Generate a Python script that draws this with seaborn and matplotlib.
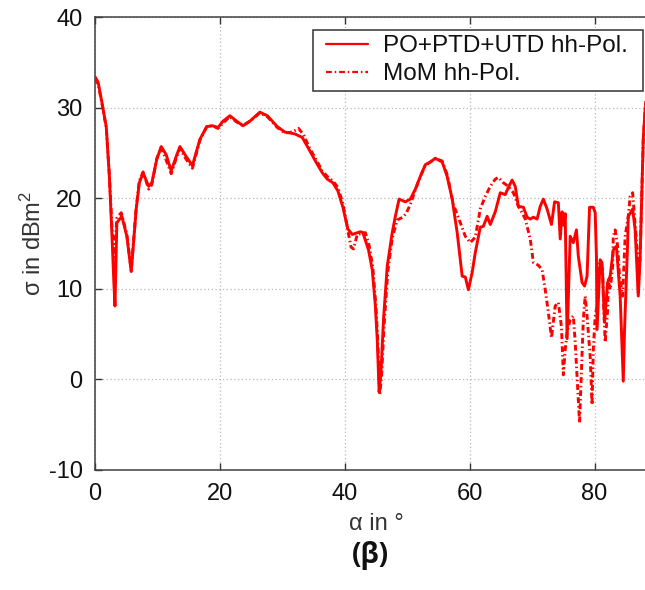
import matplotlib
matplotlib.use("Agg")
import matplotlib.pyplot as plt
import seaborn as sns
import pandas as pd
from matplotlib.lines import Line2D
from matplotlib.legend_handler import HandlerLine2D

# PO+PTD+UTD solution, hh polarisation
alpha_po = [0, 0.5, 1.1, 1.8, 2.3, 2.7, 3.0, 3.2, 3.5, 4.3, 5.1, 5.8, 6.6, 7.1, 7.7,
            8.6, 9.1, 9.9, 10.6, 11.4, 12.2, 13.0, 13.6, 14.6, 15.6, 16.8, 17.9, 18.8,
            19.7, 20.5, 21.6, 22.7, 23.7, 24.8, 26.4, 27.6, 29.2, 30.4, 32.0, 33.2,
            34.1, 35.3, 36.4, 37.2, 38.1, 38.9, 39.7, 40.5, 41.2, 42.5, 42.9, 43.8,
            44.4, 44.9, 45.2, 45.5, 45.8, 46.2, 46.8, 47.6, 48.1, 48.7, 49.7, 50.5,
            51.3, 52.1, 52.9, 53.7, 54.5, 55.6, 56.4, 57.2, 58.0, 58.5, 58.8, 59.3,
            59.8, 60.4, 60.9, 61.7, 62.2, 62.8, 63.3, 64.1, 64.9, 65.7, 66.2, 66.8,
            67.3, 67.8, 68.6, 69.2, 69.7, 70.2, 70.8, 71.3, 71.8, 72.4, 73.1, 73.6,
            74.2, 74.5, 74.8, 75.1, 75.3, 75.6, 76.1, 76.6, 77.1, 77.4, 78.0, 78.4,
            78.8, 79.2, 79.8, 80.1, 80.3, 80.4, 80.6, 80.9, 81.2, 81.6, 82.1, 82.5,
            83.0, 83.5, 84.1, 84.6, 84.8, 85.3, 85.4, 86.1, 86.5, 87.0, 87.3, 87.8,
            88.1, 88.6]
sigma_po = [33.4, 32.8, 30.6, 27.9, 22.4, 16.2, 11.0, 8.1, 17.3, 18.0, 15.8, 11.9, 18.8,
            21.7, 22.8, 21.3, 21.7, 24.3, 25.7, 24.8, 23.0, 24.6, 25.7, 24.6, 23.6,
            26.5, 27.9, 28.0, 27.8, 28.5, 29.1, 28.5, 28.0, 28.5, 29.5, 29.1, 27.9,
            27.3, 27.1, 26.7, 25.6, 24.1, 22.8, 22.1, 21.7, 20.8, 19.0, 16.6, 16.0,
            16.3, 16.2, 14.3, 12.1, 8.1, 4.4, -1.4, 0.8, 6.6, 12.5, 16.2, 18.0, 19.9,
            19.6, 19.9, 21.0, 22.4, 23.7, 24.0, 24.4, 24.0, 22.4, 19.9, 16.2, 13.2,
            11.4, 11.3, 9.9, 11.8, 14.0, 16.8, 16.9, 18.0, 17.1, 18.5, 20.6, 20.4,
            21.2, 22.0, 21.3, 19.1, 19.0, 17.9, 17.7, 17.9, 17.7, 19.1, 19.9, 18.8,
            17.1, 19.6, 19.5, 15.5, 18.5, 17.0, 18.3, 4.5, 15.8, 15.1, 16.5, 13.6,
            10.7, 10.3, 11.4, 19.0, 19.0, 18.4, 13.6, 5.5, 8.5, 13.2, 12.9, 6.3, 10.7,
            11.4, 14.3, 14.7, 9.2, -0.2, 5.5, 15.1, 18.0, 18.8, 16.5, 9.2, 13.6, 26.5,
            29.8, 33.0]

# MoM reference solution, hh polarisation
alpha_mom = [0, 0.5, 1.1, 1.8, 2.3, 2.7, 3.1, 3.5, 4.2, 5.1, 5.8, 6.6, 7.1, 7.7, 8.6,
             9.1, 9.9, 10.6, 11.4, 12.2, 13.0, 13.6, 14.6, 15.6, 16.8, 17.9, 18.8,
             19.7, 20.5, 21.6, 22.7, 23.7, 24.8, 26.4, 27.6, 29.2, 30.4, 31.6, 32.6,
             33.4, 34.3, 35.3, 36.4, 37.2, 38.1, 38.9, 39.7, 40.5, 41.0, 41.4, 42.0,
             43.3, 43.9, 44.5, 45.0, 45.3, 45.6, 45.9, 46.3, 46.9, 47.6, 48.4, 49.3,
             49.8, 50.5, 51.3, 52.1, 52.9, 53.7, 54.5, 55.6, 56.4, 57.4, 58.5, 59.3,
             60.1, 60.9, 61.7, 62.5, 63.3, 64.1, 64.6, 65.4, 66.2, 67.0, 67.8, 68.4,
             68.9, 69.7, 70.2, 71.0, 71.6, 72.1, 72.6, 73.1, 73.7, 74.2, 74.7, 75.0,
             75.3, 75.6, 76.1, 76.6, 76.9, 77.3, 77.6, 77.9, 78.2, 78.5, 78.8, 79.3,
             79.6, 79.8, 80.1, 80.4, 80.8, 81.3, 81.4, 81.7, 82.1, 82.2, 82.5, 82.9,
             83.0, 83.3, 83.7, 84.0, 84.5, 84.9, 85.4, 85.7, 86.1, 86.4, 86.9, 87.0,
             87.3, 87.8, 88.1, 88.6]
sigma_mom = [33.2, 32.6, 30.5, 27.8, 22.6, 17.0, 13.5, 17.8, 18.4, 16.0, 12.0, 19.0,
             21.9, 22.9, 21.0, 21.5, 24.4, 25.6, 24.2, 22.7, 24.4, 25.5, 24.3, 23.3,
             26.4, 27.9, 28.0, 27.7, 28.3, 29.0, 28.4, 28.0, 28.5, 29.4, 29.0, 27.8,
             27.2, 27.3, 27.7, 27.0, 25.6, 24.4, 23.0, 22.4, 21.9, 21.2, 19.4, 16.4,
             14.6, 14.4, 16.0, 16.2, 14.8, 12.3, 8.0, 4.0, -1.7, 0.5, 6.0, 12.0, 15.6,
             17.6, 17.9, 18.3, 19.3, 20.9, 22.4, 23.6, 24.0, 24.4, 24.1, 22.6, 19.3,
             17.3, 15.8, 15.1, 15.7, 18.8, 20.2, 21.3, 22.1, 22.3, 21.7, 21.3, 20.6,
             19.1, 18.4, 17.7, 15.5, 12.9, 12.6, 12.1, 9.9, 7.4, 4.6, 8.1, 8.5, 5.8,
             0.5, 3.3, 5.2, 6.6, 7.0, 4.1, -1.1, -4.8, 0.8, 6.6, 9.2, 7.0, 2.5, -2.8,
             3.3, 7.0, 8.1, 12.9, 12.1, 9.2, 4.1, 7.7, 11.0, 9.9, 12.5, 15.8, 16.5,
             14.7, 11.4, 9.2, 15.8, 18.0, 20.2, 20.6, 18.0, 13.6, 9.6, 13.6, 26.5,
             29.8, 33.0]

x_ticks = [0, 20, 40, 60, 80]
y_ticks = [-10, 0, 10, 20, 30, 40]
label_po = "PO+PTD+UTD hh-Pol."
label_mom = "MoM hh-Pol."

sns.set_style("white")
plt.rcParams["font.family"] = ["Liberation Sans", "DejaVu Sans"]
plt.rcParams["mathtext.fontset"] = "custom"
plt.rcParams["mathtext.rm"] = "Liberation Sans"
plt.rcParams["mathtext.it"] = "Liberation Sans:italic"
plt.rcParams["axes.unicode_minus"] = False

df_po = pd.DataFrame({"alpha": alpha_po, "sigma": sigma_po})
df_mom = pd.DataFrame({"alpha": alpha_mom, "sigma": sigma_mom})

fig = plt.figure(figsize=(6.45, 5.9), dpi=100)
ax = fig.add_axes([95 / 645, 120 / 590, 562 / 645, 453 / 590])

red = "#ff0000"
mom_dash = (0, (2.0, 1.0, 0.5, 1.0))
sns.lineplot(data=df_po, x="alpha", y="sigma", ax=ax, color=red, lw=2.1,
             estimator=None, sort=False, zorder=3)
sns.lineplot(data=df_mom, x="alpha", y="sigma", ax=ax, color=red, lw=2.1,
             linestyle=mom_dash, estimator=None, sort=False, zorder=2)

ax.set_xlim(0, 90)
ax.set_ylim(-10, 40)
ax.set_xticks(x_ticks)
ax.set_yticks(y_ticks)
ax.grid(True, color="#b8b8b8", linestyle=(0, (1, 2)), linewidth=0.9)
ax.tick_params(direction="in", length=5, width=1, colors="#333333",
               labelcolor="#111111", labelsize=17, top=True, right=True,
               bottom=True, left=True, pad=9)
for s in ax.spines.values():
    s.set_color("#404040")
    s.set_linewidth(1.1)

ax.set_xlabel("\u03b1 in \u00b0", fontsize=17, color="#333333", labelpad=6)
ax.set_ylabel("\u03c3 in dBm$^2$", fontsize=17, color="#333333", labelpad=2)

# legend box with a little inset around the line samples
handles = [Line2D([], [], color=red, lw=1.6),
           Line2D([], [], color=red, lw=1.6, linestyle=(0, (2.6, 1.3, 0.7, 1.3)))]
inset = HandlerLine2D(numpoints=2, marker_pad=0.33)
leg = ax.legend(handles, [label_po, label_mom], loc="upper left",
                bbox_to_anchor=(313 / 645, 1 - 91 / 590, 330 / 645, 61 / 590),
                bbox_transform=fig.transFigure, mode="expand", fontsize=17.5,
                frameon=True, fancybox=False, framealpha=1, edgecolor="#333333",
                handlelength=2.39, handletextpad=0.25, borderpad=0.22,
                labelspacing=0.24, borderaxespad=0,
                handler_map={Line2D: inset})
leg.get_frame().set_linewidth(1.1)
for t in leg.get_texts():
    t.set_color("#111111")

fig.text(370 / 645, 1 - 556 / 590, "(\u03b2)", ha="center", va="center",
         fontsize=20, fontweight="bold", family=["Open Sans", "DejaVu Sans"],
         color="#111111")

fig.savefig("out.png", dpi=100)
